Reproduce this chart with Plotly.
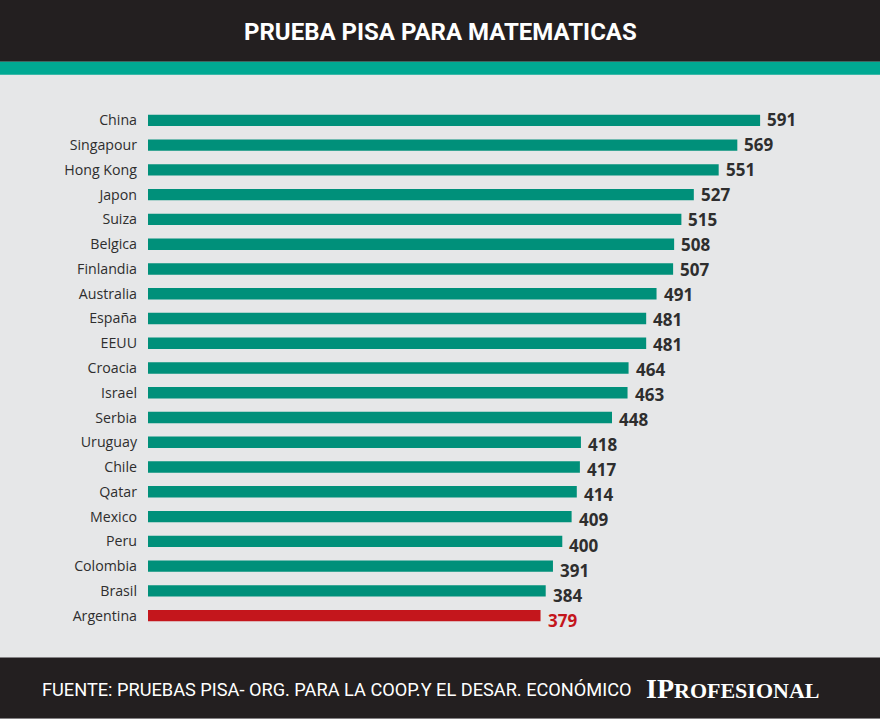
import plotly.graph_objects as go

countries = ["China", "Singapour", "Hong Kong", "Japon", "Suiza", "Belgica", "Finlandia",
             "Australia", "España", "EEUU", "Croacia", "Israel", "Serbia", "Uruguay",
             "Chile", "Qatar", "Mexico", "Peru", "Colombia", "Brasil", "Argentina"]
scores = [591, 569, 551, 527, 515, 508, 507, 491, 481, 481, 464, 463, 448, 418,
          417, 414, 409, 400, 391, 384, 379]
highlight = "Argentina"

TEAL = "#00907a"
RED = "#c4161c"
DARK = "#231f20"
BG = "#e6e7e8"
TXT = "#2e2e2e"

W, H = 880, 719
L, R = 148, 7
T, B = 108.3, 90.6
pw = W - L - R
ph = H - T - B

def py(y):  # pixel y -> paper y
    return (H - B - y) / ph

def px(x):
    return (x - L) / pw

colors = [RED if c == highlight else TEAL for c in countries]

fig = go.Figure(go.Bar(
    x=scores, y=countries, orientation="h",
    marker=dict(color=colors, line=dict(width=0)),
    width=0.46, hoverinfo="x+y",
))

annotations = []
n = len(countries)
for i, (c, v) in enumerate(zip(countries, scores)):
    annotations.append(dict(
        x=v, y=c, xref="x", yref="y", text=str(v), showarrow=False,
        xanchor="left", yanchor="middle", xshift=5, yshift=1 - 5.5 * i / (n - 1),
        font=dict(family="Open Sans", size=17, color=RED if c == highlight else TXT, weight="bold"),
    ))

annotations.append(dict(
    x=px(440), y=py(32), xref="paper", yref="paper", text="<b>PRUEBA PISA PARA MATEMATICAS</b>",
    showarrow=False, xanchor="center", yanchor="middle",
    font=dict(family="Roboto", size=24, color="white"),
))
annotations.append(dict(
    x=px(40), y=py(690), xref="paper", yref="paper",
    text="FUENTE: PRUEBAS PISA- ORG. PARA LA COOP.Y EL DESAR. ECONÓMICO",
    showarrow=False, xanchor="left", yanchor="middle",
    font=dict(family="Roboto", size=18.2, color="white"),
))
annotations.append(dict(
    x=px(821), y=py(689), xref="paper", yref="paper",
    text="<b><span style='font-size:28px'>IP</span>ROFESIONAL</b>",
    showarrow=False, xanchor="right", yanchor="middle",
    font=dict(family="Liberation Serif, DejaVu Serif", size=22, color="white"),
))

shapes = [
    dict(type="rect", xref="paper", yref="paper", x0=px(0), x1=px(W), y0=py(0), y1=py(62),
         fillcolor=DARK, line=dict(width=0), layer="below"),
    dict(type="rect", xref="paper", yref="paper", x0=px(0), x1=px(W), y0=py(62), y1=py(75),
         fillcolor="#00a993", line=dict(width=0), layer="below"),
    dict(type="rect", xref="paper", yref="paper", x0=px(0), x1=px(W), y0=py(658), y1=py(H),
         fillcolor=DARK, line=dict(width=0), layer="below"),
]

fig.update_layout(
    width=W, height=H,
    margin=dict(l=L, r=R, t=T, b=B, pad=0),
    paper_bgcolor=BG, plot_bgcolor=BG,
    showlegend=False,
    xaxis=dict(range=[0, 700], visible=False, fixedrange=True),
    yaxis=dict(categoryorder="array", categoryarray=countries, range=[n - 0.5, -0.5],
               showgrid=False, zeroline=False, showline=False, ticks="",
               ticklabelstandoff=10,
               tickfont=dict(family="Open Sans", size=14.2, color=TXT), fixedrange=True),
    annotations=annotations, shapes=shapes,
)

fig.write_html("out.html")
